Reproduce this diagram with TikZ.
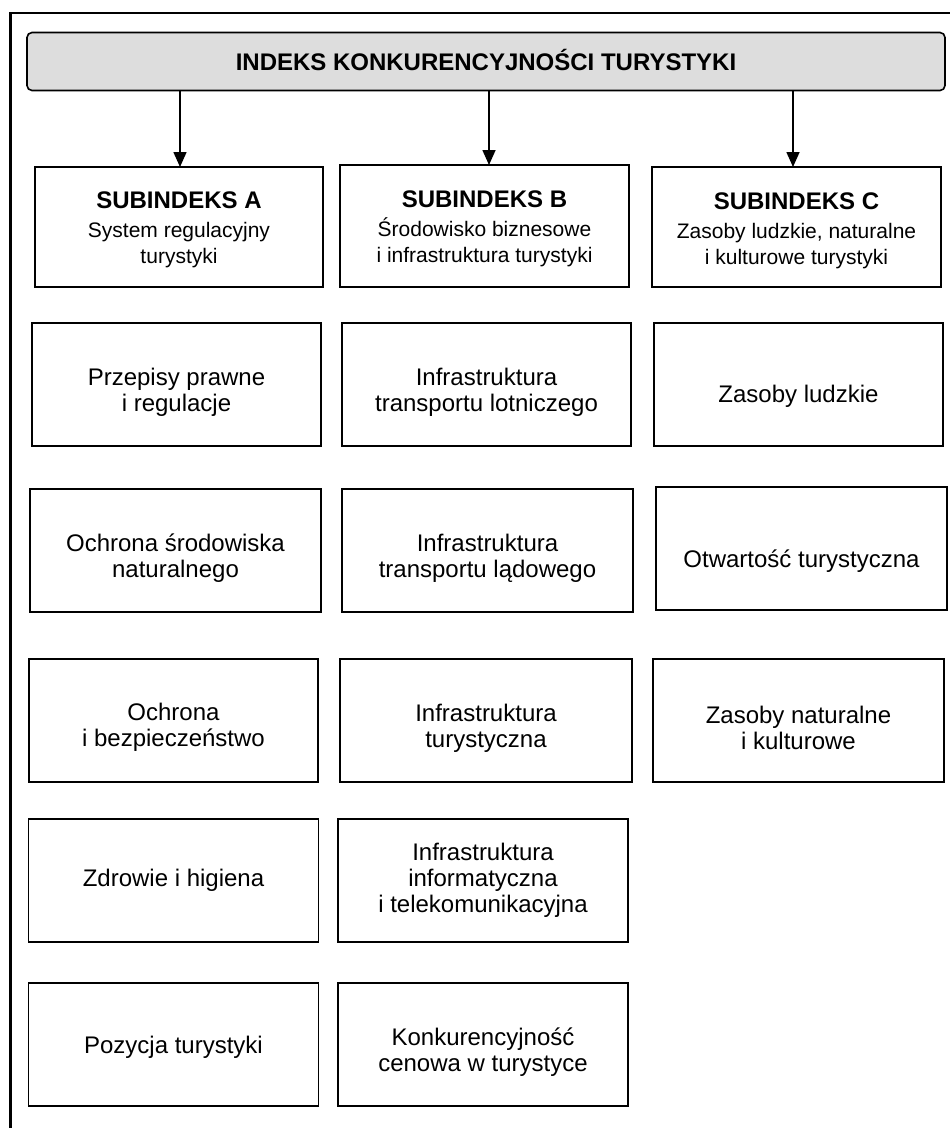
\documentclass[tikz,border=0pt]{standalone}
\usepackage{fontspec}
\setmainfont{Liberation Sans}
\usetikzlibrary{arrows.meta}
\definecolor{hdrgray}{RGB}{221,221,221}
\begin{document}
\begin{tikzpicture}[x=1pt,y=-1pt,
  box/.style={draw=black, line width=1.6pt, fill=white, inner sep=0pt, outer sep=0pt, align=center,
    minimum width=290pt, minimum height=123pt, font=\fontsize{24}{26}\selectfont},
  subbox/.style={box, minimum height=120pt, text height=78pt},
  two/.style={text height=58pt},
  hdrbox/.style={draw=black, line width=1.6pt, fill=hdrgray, rounded corners=5pt, inner sep=0pt, outer sep=0pt,
    minimum width=918pt, minimum height=58pt, text height=17.2pt, text depth=0pt,
    font=\fontsize{24}{26}\selectfont\bfseries},
  arr/.style={line width=1.6pt, -{Triangle[length=15pt,width=13pt]}},
  frame/.style={line width=2.6pt}]
\useasboundingbox (0,0) rectangle (950,1128);
\draw[frame] (10.5,1140) -- (10.5,13) -- (960,13);

\node[hdrbox] (hdr) at (486,61.5) {INDEKS KONKURENCYJNOŚCI TURYSTYKI};

% row 1
\node[subbox, minimum width=288pt, text height=77pt] (a1) at (179,227)
 {\bfseries SUBINDEKS A\\[3pt]\fontsize{21}{23}\selectfont System regulacyjny\\ \fontsize{21}{23}\selectfont turystyki};
\node[subbox, minimum width=289pt, minimum height=122pt] (b1) at (484.5,226)
 {\bfseries SUBINDEKS B\\[3pt]\fontsize{21}{23}\selectfont Środowisko biznesowe\\ \fontsize{21}{23}\selectfont i infrastruktura turystyki};
\node[subbox, minimum width=289pt, text height=79pt] (c1) at (796.5,227)
 {\bfseries SUBINDEKS C\\[3pt]\fontsize{21}{23}\selectfont Zasoby ludzkie, naturalne\\ \fontsize{21}{23}\selectfont i kulturowe turystyki};

% row 2
\node[box, two, minimum width=289pt, text height=59pt] (a2) at (176.5,384.5) {Przepisy prawne\\ i regulacje};
\node[box, two, minimum width=289pt, text height=59pt] (b2) at (486.5,384.5) {Infrastruktura\\ transportu lotniczego};
\node[box, minimum width=289pt, text height=41pt, text depth=5pt] (c2) at (798.5,384.5) {Zasoby ludzkie};

% row 3
\node[box, two, minimum width=291pt] (a3) at (175.5,550.5) {Ochrona środowiska\\ naturalnego};
\node[box, two, minimum width=291pt] (b3) at (487.5,550.5) {Infrastruktura\\ transportu lądowego};
\node[box, minimum width=291pt, text height=42pt, text depth=5pt] (c3) at (801.5,548.5) {Otwartość turystyczna};

% row 4
\node[box, minimum width=289pt, text height=57pt] (a4) at (173.5,720.5) {Ochrona\\ i bezpieczeństwo};
\node[box, two, minimum width=292pt] (b4) at (486,720.5) {Infrastruktura\\ turystyczna};
\node[box, minimum width=291pt, text height=59pt] (c4) at (798.5,720.5) {Zasoby naturalne\\ i kulturowe};

% row 5
\node[box] (a5) at (173.5,880.5) {Zdrowie i higiena};
\node[box] (b5) at (483,880.5) {Infrastruktura\\ informatyczna\\ i telekomunikacyjna};

% row 6
\node[box, text height=22pt, text depth=5pt] (a6) at (173.5,1044.5) {Pozycja turystyki};
\node[box, two, text height=59.5pt] (b6) at (483,1044.5) {Konkurencyjność\\ cenowa w turystyce};

% arrows
\coordinate (at) at ([xshift=1pt]a1.north);
\coordinate (bt) at ([xshift=4.5pt]b1.north);
\coordinate (ct) at ([xshift=-3.5pt]c1.north);
\draw[arr] (at |- hdr.south) -- (at);
\draw[arr] (bt |- hdr.south) -- (bt);
\draw[arr] (ct |- hdr.south) -- (ct);
\end{tikzpicture}
\end{document}
